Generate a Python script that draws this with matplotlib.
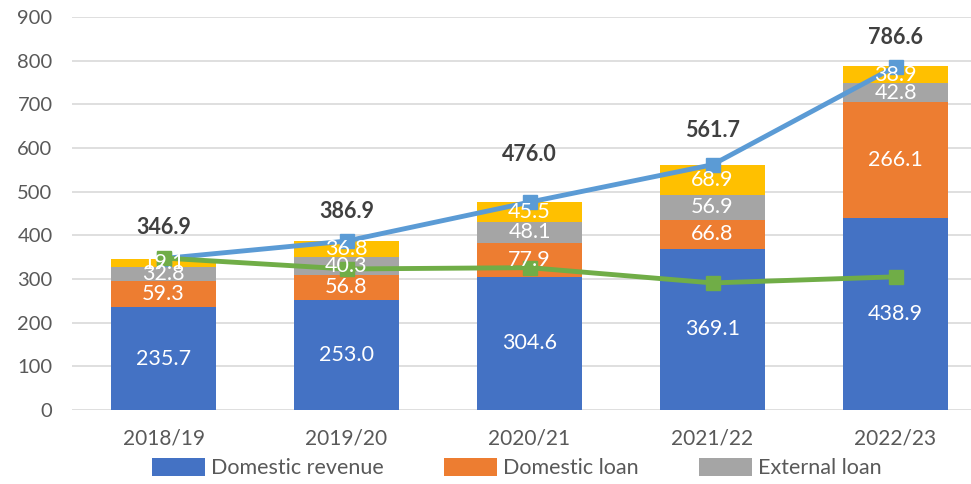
import numpy as np
import matplotlib
matplotlib.use("Agg")
import matplotlib.pyplot as plt

plt.rcParams['font.family'] = ['Lato', 'DejaVu Sans']

years = ["2018/19", "2019/20", "2020/21", "2021/22", "2022/23"]
domestic_revenue = [235.7, 253.0, 304.6, 369.1, 438.9]
domestic_loan = [59.3, 56.8, 77.9, 66.8, 266.1]
external_loan = [32.8, 40.3, 48.1, 56.9, 42.8]
grants = [19.1, 36.8, 45.5, 68.9, 38.9]
totals = [346.9, 386.9, 476.0, 561.7, 786.6]
green_line = [348, 323, 326, 291, 305]
# vertical offset (points) of the total labels above the line markers
total_offsets = [22, 21, 34, 25, 21]

fig = plt.figure(figsize=(9.71, 4.84), dpi=100)
ax = fig.add_axes([72/971, 1 - 410/484, 915/971, 393/484])

x = np.arange(len(years))
w = 0.575
series = [
    (domestic_revenue, "#4472C4", "Domestic revenue"),
    (domestic_loan, "#ED7D31", "Domestic loan"),
    (external_loan, "#A5A5A5", "External loan"),
    (grants, "#FFC000", None),
]
bottom = np.zeros(len(years))
handles = []
for vals, col, name in series:
    vals = np.array(vals)
    b = ax.bar(x, vals, w, bottom=bottom, color=col, zorder=2, label=name)
    if name:
        handles.append(b)
    for xi, bo, v in zip(x, bottom, vals):
        ax.text(xi, bo + v / 2, f"{v:.1f}", ha="center", va="center",
                color="white", fontsize=15.5, zorder=5)
    bottom = bottom + vals

ax.plot(x, totals, color="#5B9BD5", lw=3.5, marker="s", markersize=10, zorder=3)
ax.plot(x, green_line, color="#70AD47", lw=3.5, marker="s", markersize=10, zorder=3)

for xi, t, off in zip(x, totals, total_offsets):
    ax.annotate(f"{t:.1f}", (xi, t), xytext=(0, off), textcoords="offset points",
                ha="center", va="center", fontsize=15.5, fontweight="bold",
                color="#404040", zorder=6)

ax.set_xlim(-0.5, len(years) - 0.5)
ax.set_ylim(0, 900)
ax.set_yticks(range(0, 901, 100))
ax.set_xticks(x)
ax.set_xticklabels(years)
ax.tick_params(length=0, colors="#595959")
ax.tick_params(axis="x", labelsize=15, pad=13)
ax.tick_params(axis="y", labelsize=14.5, pad=14)
ax.grid(axis="y", color="#D9D9D9", lw=1.2, zorder=0)
ax.set_axisbelow(True)
for s in ax.spines.values():
    s.set_visible(False)

fig.legend(handles=handles, loc="center", bbox_to_anchor=(517/971, 1 - 468/484),
           ncol=3, frameon=False, fontsize=15.5, handlelength=2.45, handleheight=0.9,
           columnspacing=2.8, handletextpad=0.3, labelcolor="#595959")

fig.savefig("out.png", dpi=100)
